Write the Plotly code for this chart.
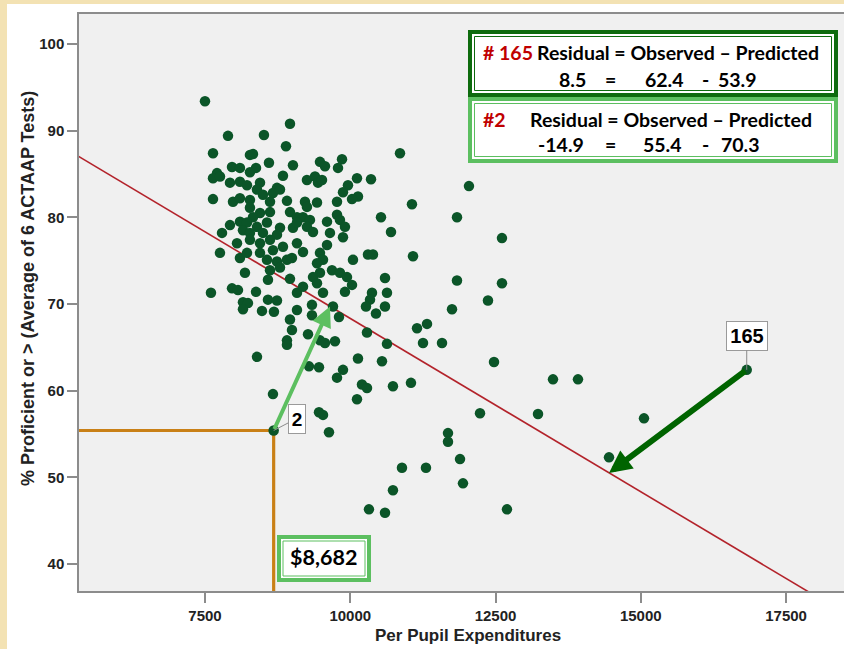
import plotly.graph_objects as go

# ---------------- data ----------------
spend = [
    7500, 8963, 7896, 8515, 7638, 8894, 10856, 8274, 8326, 8601,
    9014, 9479, 9565, 9858, 9789, 7965, 8102, 8378, 8274, 7707,
    7638, 7758, 8842, 9255, 9393, 9445, 9514, 10116, 10357, 7930,
    8102, 8223, 8447, 8395, 8739, 8670, 8791, 9961, 9875, 10133,
    10030, 7638, 7982, 8102, 8274, 8498, 8619, 8911, 9221, 9428,
    9255, 9772, 11062, 8274, 8447, 8619, 8326, 8963, 9083, 9187,
    9307, 9772, 9823, 9909, 10529, 7930, 8102, 8223, 8154, 8395,
    8567, 8498, 8274, 8791, 8739, 9014, 9083, 9255, 9359, 9600,
    9651, 9875, 10701, 7793, 8051, 8274, 8447, 8619, 8670, 8842,
    8447, 9083, 9187, 9600, 9479, 9531, 7758, 8102, 8223, 8567,
    8739, 8911, 8997, 8791, 8619, 9428, 9479, 9359, 9686, 9823,
    9944, 10047, 10305, 10391, 11080, 10598, 8188, 8584, 8963, 9428,
    9531, 10030, 9909, 10632, 7965, 8068, 7603, 8378, 8584, 8739,
    8154, 8240, 8154, 8481, 8687, 9083, 9187, 9083, 8963, 8997,
    8911, 8911, 9341, 9341, 9703, 9806, 10374, 10340, 10271, 10443,
    10598, 9273, 9479, 9565, 9737, 10288, 10632, 11149, 11321, 11252,
    11579, 11751, 8395, 10133, 10546, 9290, 9462, 9875, 9772, 10202,
    10288, 10116, 10735, 11045, 8670, 9462, 9531, 9634, 8682, 11682,
    11682, 12233, 13231, 11889, 11940, 10890, 11303, 10735, 10322, 10598,
    12697, 12043, 11837, 12611, 11837, 12611, 12370, 12474, 13489, 13919,
    14453, 15055, 16823,
]
pct_proficient = [
    93.4, 90.8, 89.4, 89.5, 87.4, 88.2, 87.4, 87.2, 87.3, 86.3,
    86.0, 86.4, 85.9, 86.7, 85.7, 85.8, 85.7, 85.7, 85.2, 85.1,
    84.5, 84.7, 84.8, 84.3, 84.7, 84.0, 84.3, 84.5, 84.4, 84.0,
    84.1, 83.7, 84.0, 83.2, 83.4, 82.8, 83.2, 83.7, 82.9, 82.4,
    82.1, 82.1, 81.8, 82.2, 82.0, 82.6, 81.8, 81.9, 81.8, 81.7,
    81.2, 81.8, 81.5, 81.1, 80.5, 80.6, 80.0, 80.6, 80.0, 80.0,
    79.7, 80.3, 79.7, 78.9, 80.0, 79.1, 79.5, 79.4, 78.5, 78.9,
    79.4, 78.2, 78.2, 78.8, 78.0, 78.8, 79.4, 78.9, 78.3, 79.5,
    78.2, 77.7, 78.3, 78.2, 77.0, 77.4, 77.0, 77.4, 76.2, 76.6,
    75.9, 77.0, 76.0, 76.8, 75.9, 75.1, 75.9, 75.3, 75.9, 75.1,
    74.9, 75.1, 75.3, 74.2, 73.9, 74.7, 73.6, 73.1, 73.9, 73.6,
    73.1, 75.1, 75.7, 75.7, 75.5, 73.0, 73.6, 72.8, 72.9, 72.4,
    71.3, 72.2, 71.4, 71.3, 71.8, 71.6, 71.3, 71.4, 70.5, 70.4,
    70.2, 70.1, 69.4, 69.2, 69.1, 71.3, 72.0, 69.3, 68.2, 67.0,
    65.8, 65.3, 69.9, 68.7, 69.7, 68.5, 71.3, 70.5, 69.7, 68.9,
    69.7, 66.5, 65.8, 65.5, 65.7, 66.7, 65.4, 67.2, 67.7, 65.5,
    65.5, 69.4, 63.9, 63.7, 63.4, 62.8, 62.7, 62.4, 61.5, 60.7,
    60.3, 59.0, 60.5, 60.9, 59.6, 57.5, 57.2, 55.2, 55.4, 55.1,
    54.1, 57.4, 57.3, 52.1, 49.3, 51.1, 51.1, 48.5, 46.3, 45.9,
    46.3, 83.6, 80.0, 77.6, 72.7, 72.4, 70.4, 63.3, 61.3, 61.3,
    52.3, 56.8, 62.4,
]

# fitted regression line (as drawn): predicted = a + b * spend
fit_intercept = 108.33
fit_slope = -0.0040
fit_x = [5000, 19000]
fit_y = [fit_intercept + fit_slope * v for v in fit_x]

# highlighted cases
case2 = {"id": "2", "spend": 8682, "obs": 55.4, "pred_spend": 9651, "pred": 69.7}
case165 = {"id": "165", "spend": 16823, "obs": 62.4, "pred_spend": 14453, "pred": 50.5}

x_ticks = [7500, 10000, 12500, 15000, 17500]
y_ticks = [40, 50, 60, 70, 80, 90, 100]
x_range = [5332, 18497]
y_range = [36.88, 103.46]

# ---------------- figure ----------------
W, H = 844, 649
ML, MR, MT, MB = 79, 0, 14, 58
PW, PH = W - ML - MR, H - MT - MB


def fx(p):
    return (p - ML) / PW


def fy(p):
    return (H - MB - p) / PH


GREEN_DARK = "#0e6b0e"
GREEN_LIGHT = "#5cbf60"
RED = "#c00000"
ORANGE = "#c98016"
DOT = "#0b5528"
TXT = "Lato"

fig = go.Figure()

# guide lines for case #2
fig.add_trace(go.Scatter(
    x=[x_range[0], case2["spend"], case2["spend"]],
    y=[case2["obs"], case2["obs"], y_range[0]],
    mode="lines", line=dict(color=ORANGE, width=3.2),
    hoverinfo="skip", showlegend=False,
))

fig.add_trace(go.Scatter(
    x=fit_x, y=fit_y, mode="lines",
    line=dict(color="#b3232b", width=1.6),
    hoverinfo="skip", showlegend=False,
))

fig.add_trace(go.Scatter(
    x=spend, y=pct_proficient, mode="markers",
    marker=dict(color=DOT, size=10.5, line=dict(width=0)),
    showlegend=False,
))

annotations = []

# arrows
annotations.append(dict(
    x=case2["pred_spend"], y=case2["pred"], xref="x", yref="y",
    ax=case2["spend"], ay=case2["obs"], axref="x", ayref="y",
    text="", showarrow=True, arrowhead=2, arrowsize=1.0, arrowwidth=4,
    arrowcolor=GREEN_LIGHT,
))
annotations.append(dict(
    x=case165["pred_spend"], y=case165["pred"], xref="x", yref="y",
    ax=case165["spend"], ay=case165["obs"], axref="x", ayref="y",
    text="", showarrow=True, arrowhead=2, arrowsize=0.75, arrowwidth=6,
    arrowcolor="#006400",
))

# point labels
annotations.append(dict(
    x=case2["spend"], y=case2["obs"], xref="x", yref="y",
    text="<b>2</b>", ax=23, ay=-12, showarrow=True, arrowhead=0,
    arrowwidth=1, arrowcolor="#8a8a8a", bgcolor="white",
    bordercolor="#9a9a9a", borderwidth=1, borderpad=1, width=14, height=26,
    font=dict(family="Liberation Sans", size=19, color="black"),
))
annotations.append(dict(
    x=case165["spend"], y=case165["obs"], xref="x", yref="y",
    text="<b>165</b>", ax=0, ay=-34, showarrow=True, arrowhead=0,
    arrowwidth=1, arrowcolor="#8a8a8a", bgcolor="white",
    bordercolor="#9a9a9a", borderwidth=1, borderpad=1, width=38, height=26,
    font=dict(family="Liberation Sans", size=20, color="black"),
))


def txt(s, xp, yp, size=19.5, color="black", anchor="left", family=TXT):
    annotations.append(dict(
        x=fx(xp), y=fy(yp), xref="paper", yref="paper", text="<b>%s</b>" % s,
        showarrow=False, xanchor=anchor, yanchor="middle",
        font=dict(family=family, size=size, color=color),
    ))


# residual boxes text
txt("# 165", 481, 52, color=RED)
txt("Residual = Observed \u2013 Predicted", 535, 52)
txt("8.5", 572, 79, anchor="center")
txt("=", 610, 79, anchor="center")
txt("62.4", 664, 79, anchor="center")
txt("-", 705, 79, anchor="center")
txt("53.9", 737, 79, anchor="center")

txt("#2", 481, 119, color=RED)
txt("Residual = Observed \u2013 Predicted", 528, 119)
txt("-14.9", 561, 145, anchor="center")
txt("=", 610, 145, anchor="center")
txt("55.4", 662, 145, anchor="center")
txt("-", 705, 145, anchor="center")
txt("70.3", 740, 145, anchor="center")

txt("$8,682", 323, 557, size=21.5, anchor="center")

# axis titles
annotations.append(dict(
    x=fx(467.5), y=fy(635), xref="paper", yref="paper",
    text="<b>Per Pupil Expenditures</b>", showarrow=False,
    xanchor="center", yanchor="middle",
    font=dict(family="Liberation Sans", size=17, color="#222222"),
))
annotations.append(dict(
    x=fx(28), y=fy(289), xref="paper", yref="paper",
    text="<b>% Proficient or > (Average of 6 ACTAAP Tests)</b>", showarrow=False,
    xanchor="center", yanchor="middle", textangle=-90,
    font=dict(family="Liberation Sans", size=18, color="#222222"),
))

BEIGE = "#f3e2b3"
shapes = [
    # theme strips outside the chart
    dict(type="rect", xref="paper", yref="paper", x0=fx(0), x1=fx(7), y0=fy(H), y1=fy(0),
         line=dict(width=0), fillcolor=BEIGE),
    dict(type="rect", xref="paper", yref="paper", x0=fx(0), x1=fx(W), y0=fy(4), y1=fy(0),
         line=dict(width=0), fillcolor=BEIGE),
    # box #165
    dict(type="rect", xref="paper", yref="paper", x0=fx(470), x1=fx(836), y0=fy(95), y1=fy(32),
         line=dict(color=GREEN_DARK, width=4), fillcolor="white"),
    dict(type="rect", xref="paper", yref="paper", x0=fx(474.5), x1=fx(831.5), y0=fy(90.5), y1=fy(36.5),
         line=dict(color=GREEN_DARK, width=1), fillcolor="rgba(0,0,0,0)"),
    # box #2
    dict(type="rect", xref="paper", yref="paper", x0=fx(470), x1=fx(836), y0=fy(161), y1=fy(99),
         line=dict(color=GREEN_LIGHT, width=4), fillcolor="white"),
    dict(type="rect", xref="paper", yref="paper", x0=fx(474.5), x1=fx(831.5), y0=fy(156.5), y1=fy(103.5),
         line=dict(color=GREEN_LIGHT, width=1), fillcolor="rgba(0,0,0,0)"),
    # $8,682 box
    dict(type="rect", xref="paper", yref="paper", x0=fx(279), x1=fx(369), y0=fy(580), y1=fy(537),
         line=dict(color=GREEN_LIGHT, width=4), fillcolor="white"),
    dict(type="rect", xref="paper", yref="paper", x0=fx(283), x1=fx(365), y0=fy(576), y1=fy(541),
         line=dict(color=GREEN_LIGHT, width=1), fillcolor="rgba(0,0,0,0)"),
]

fig.update_layout(
    width=W, height=H,
    margin=dict(l=ML, r=MR, t=MT, b=MB, pad=0),
    paper_bgcolor="white", plot_bgcolor="#f0f0f0",
    showlegend=False,
    annotations=annotations, shapes=shapes,
    xaxis=dict(
        range=x_range, tickvals=x_ticks, ticktext=["<b>%d</b>" % v for v in x_ticks],
        showgrid=False, zeroline=False, showline=True, linecolor="#8c8c8c", linewidth=1.5,
        mirror=True, ticks="outside", ticklen=10, tickwidth=1.5, tickcolor="#8c8c8c",
        tickfont=dict(family="Liberation Sans", size=15, color="#222222"),
    ),
    yaxis=dict(
        range=y_range, tickvals=y_ticks, ticktext=["<b>%d</b>" % v for v in y_ticks],
        showgrid=False, zeroline=False, showline=True, linecolor="#8c8c8c", linewidth=1.5,
        ticks="outside", ticklen=10, tickwidth=1.5, tickcolor="#8c8c8c",
        tickfont=dict(family="Liberation Sans", size=15, color="#222222"),
    ),
)

fig.write_html(
    "out.html",
    config={"displayModeBar": False},
    post_script="document.body.style.margin='0';document.body.style.overflow='hidden';",
)
